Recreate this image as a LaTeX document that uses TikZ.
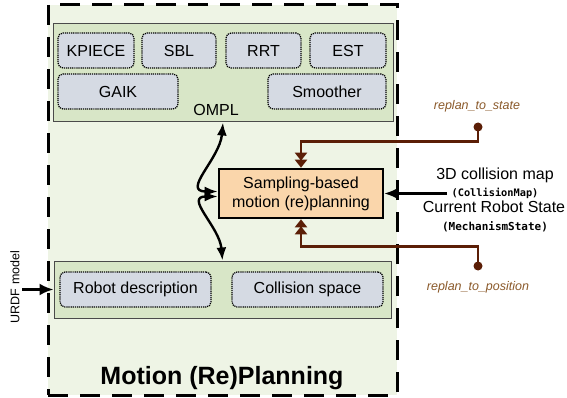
\documentclass[tikz,border=0pt]{standalone}
\usepackage{fontspec}
\setmainfont{Liberation Sans}
\newfontfamily\codefont{DejaVu Sans Mono}
\usetikzlibrary{arrows.meta}

\definecolor{framefill}{HTML}{EEF4E5}
\definecolor{groupfill}{HTML}{D8E6C7}
\definecolor{groupline}{HTML}{4A4A4A}
\definecolor{modfill}{HTML}{D5DAE3}
\definecolor{corefill}{HTML}{FAD6AB}
\definecolor{replanline}{HTML}{5B1E06}
\definecolor{replantext}{HTML}{8B5A2B}

\tikzset{
  txt/.style={font=\fontsize{16}{19}\selectfont},
  group/.style={draw=groupline, fill=groupfill, line width=1pt, inner sep=0pt},
  module/.style={draw=black, fill=modfill, line width=1.2pt, dash pattern=on 1.2pt off 0.9pt,
    rounded corners=5pt, inner sep=0pt, minimum height=35pt, txt},
  core/.style={draw=black, fill=corefill, line width=2.6pt, inner sep=0pt, txt, align=center},
  blackarrow/.style={line width=2.6pt, -{Latex[length=14pt,width=12pt]}},
  twoway/.style={line width=2.4pt, {Latex[length=13pt,width=10pt]}-{Latex[length=13pt,width=10pt]}},
  replan/.style={draw=replanline, line width=2.6pt,
    -{Triangle[length=8pt,width=12pt,sep=-1pt]Triangle[length=8pt,width=12pt]}, color=replanline},
  replandot/.style={circle, fill=replanline, minimum size=9pt, inner sep=0pt},
  replanlabel/.style={text=replantext, font=\fontsize{12.5}{14}\selectfont\itshape},
  codelabel/.style={font=\fontsize{10.3}{12}\selectfont\codefont\bfseries},
}

\begin{document}
\begin{tikzpicture}[x=1pt,y=-1pt]
  \useasboundingbox (0,0) rectangle (567,398);
  \fill[white] (0,0) rectangle (567,398);

  % dashed outer frame of the component
  \node[draw=black, fill=framefill, line width=3pt, dash pattern=on 20pt off 12pt,
        minimum width=349pt, minimum height=390pt, inner sep=0pt] (frame) at (222.5,200) {};

  % OMPL group
  \node[group, minimum width=340pt, minimum height=98pt] (ompl) at (223,73) {};
  \node[module, minimum width=76pt] (kpiece) at (96,50.5) {KPIECE};
  \node[module, minimum width=74pt] (sbl) at (179,50.5) {SBL};
  \node[module, minimum width=75pt] (rrt) at (263.5,50.5) {RRT};
  \node[module, minimum width=76pt] (est) at (348,50.5) {EST};
  \node[module, minimum width=120pt] (gaik) at (118,91.5) {GAIK};
  \node[module, minimum width=118pt] (smoother) at (327,91.5) {Smoother};
  \node[txt, inner sep=0pt] (ompllabel) at (216,109.5) {OMPL};

  % planner core
  \node[core, minimum width=164pt, minimum height=49pt] (samp) at (301,193.5)
       {Sampling-based\\motion (re)planning};

  % robot model group
  \node[group, minimum width=337pt, minimum height=57pt] (robot) at (222.5,289.5) {};
  \node[module, minimum width=151pt] (desc) at (135.5,289.5) {Robot description};
  \node[module, minimum width=151pt] (cspace) at (307.5,289.5) {Collision space};

  \node[font=\fontsize{25}{28}\selectfont\bfseries, inner sep=0pt] (title) at (222,378)
       {Motion (Re)Planning};

  % URDF input
  \node[rotate=90, font=\fontsize{12.5}{14}\selectfont, inner sep=0pt] (urdf) at (15,287) {URDF model};
  \coordinate (urdfin) at (22,289.5);
  \draw[blackarrow] (urdfin) -- (robot.west);

  % links between planner, OMPL and robot model
  \draw[twoway] (ompl.south) to[out=-95, in=180, looseness=1.35] ([yshift=2pt]samp.west);
  \draw[twoway] ([yshift=-3pt]samp.west) to[out=180, in=95, looseness=1.35] (robot.north);

  % external inputs
  \node[txt, inner sep=0pt] (maplabel) at (495,175) {3D collision map};
  \node[codelabel, inner sep=0pt] (maptype) at (495,193) {(CollisionMap)};
  \node[txt, inner sep=0pt] (statelabel) at (494,207) {Current Robot State};
  \node[codelabel, font=\fontsize{11}{12}\selectfont\codefont\bfseries, inner sep=0pt] (statetype) at (495,227) {(MechanismState)};
  \coordinate (mapin) at (447,193.5);
  \draw[blackarrow] (mapin) -- (samp.east);

  % replanning triggers
  \node[replanlabel, inner sep=0pt] (tostate) at (477,106) {replan\_to\_state};
  \node[replandot] (statedot) at (478,127) {};
  \draw[replan] (statedot.center) |- ([yshift=26pt]samp.north) -- (samp.north);

  \node[replanlabel, inner sep=0pt] (topos) at (478,287) {replan\_to\_position};
  \node[replandot] (posdot) at (478,266) {};
  \draw[replan] (posdot.center) |- ([yshift=-27pt]samp.south) -- (samp.south);
\end{tikzpicture}
\end{document}
